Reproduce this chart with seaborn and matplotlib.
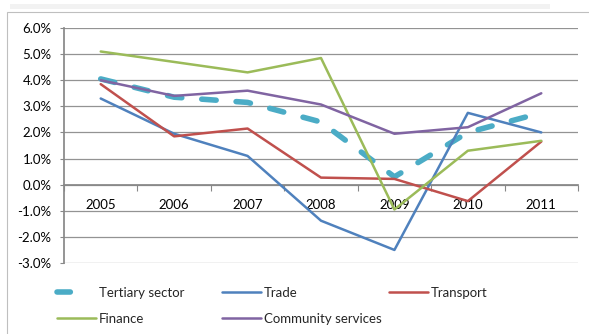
import matplotlib
matplotlib.use("Agg")
import matplotlib.pyplot as plt
from matplotlib.lines import Line2D
from matplotlib.patches import Rectangle
import seaborn as sns
import pandas as pd

years = ["2005", "2006", "2007", "2008", "2009", "2010", "2011"]
tertiary = [4.05, 3.35, 3.15, 2.4, 0.3, 2.0, 2.75]
trade = [3.3, 1.95, 1.1, -1.38, -2.5, 2.75, 2.0]
transport = [3.85, 1.85, 2.15, 0.27, 0.22, -0.63, 1.65]
finance = [5.1, 4.7, 4.3, 4.85, -0.95, 1.3, 1.68]
community = [4.0, 3.4, 3.6, 3.07, 1.95, 2.2, 3.5]

series_names = ["Tertiary sector", "Trade", "Transport", "Finance", "Community services"]
series_values = [tertiary, trade, transport, finance, community]
colors = ["#4BACC6", "#4F81BD", "#C0504D", "#9BBB59", "#8064A2"]
y_ticks = [-3, -2, -1, 0, 1, 2, 3, 4, 5, 6]

sns.set_theme(style="white")
plt.rcParams["font.family"] = ["Lato", "DejaVu Sans"]
FS = 9.5

rows = []
for name, vals in zip(series_names, series_values):
    for i, v in enumerate(vals):
        rows.append({"pos": i, "year": years[i], "series": name, "value": v})
df = pd.DataFrame(rows)

fig = plt.figure(figsize=(5.89, 3.34), dpi=100)
ax = fig.add_axes([64 / 589, 1 - 263 / 334, 514 / 589, 235 / 334])

# horizontal gridlines
for t in y_ticks:
    ax.axhline(t, color="#939393", lw=0.9, zorder=0)

lw_thin = 1.8
dash = (0, (2.6, 3.6))
for name, col in zip(series_names, colors):
    sub = df[df["series"] == name]
    if name == "Tertiary sector":
        sns.lineplot(data=sub, x="pos", y="value", ax=ax, color=col, lw=4.0,
                     linestyle=dash, dash_capstyle="round",
                     legend=False, zorder=2, errorbar=None)
    else:
        sns.lineplot(data=sub, x="pos", y="value", ax=ax, color=col, lw=lw_thin,
                     legend=False, zorder=3, errorbar=None)

ax.set_xlim(-0.5, 6.5)
ax.set_ylim(-3, 6)
ax.set_xlabel("")
ax.set_ylabel("")

ax.set_yticks(y_ticks)
ax.set_yticklabels([f"{t:.1f}%" for t in y_ticks], fontsize=FS, color="black")
ax.tick_params(axis="y", length=3, width=0.8, color="#888888", pad=6, left=True)

ax.spines["bottom"].set_position(("data", 0))
ax.spines["bottom"].set_color("#888888")
ax.spines["left"].set_color("#888888")
ax.spines["top"].set_visible(False)
ax.spines["right"].set_visible(False)

ax.set_xticks(range(len(years)))
ax.set_xticklabels(years, fontsize=FS, color="black")
ax.set_xticks([i - 0.5 for i in range(len(years) + 1)], minor=True)
ax.tick_params(axis="x", which="major", length=0, pad=10, bottom=True)
ax.tick_params(axis="x", which="minor", length=4, width=0.8, color="#888888", bottom=True)

# legend, three columns laid out at fixed positions
col_x = [57 / 589, 222 / 589, 389 / 589]
row_y = [1 - 293 / 334, 1 - 319 / 334]
layout = [(0, 0, 0), (1, 0, 1), (2, 0, 2), (3, 1, 0), (4, 1, 1)]
for idx, r, c in layout:
    if series_names[idx] == "Tertiary sector":
        h = Line2D([], [], color=colors[idx], lw=4.0, linestyle=(0, (2.4, 10)),
                   dash_capstyle="round")
    else:
        h = Line2D([], [], color=colors[idx], lw=lw_thin)
    fig.legend([h], [series_names[idx]], loc="center left",
               bbox_to_anchor=(col_x[c], row_y[r]), frameon=False,
               fontsize=FS, handlelength=2.95, handletextpad=0.2,
               borderaxespad=0, borderpad=0)

# chart area border and faint strip above it
fig.patches.append(Rectangle((7 / 589, -0.05), 1.0, 1 - 12 / 334 + 0.05,
                             transform=fig.transFigure, fill=False,
                             edgecolor="#BFBFBF", lw=0.8))
fig.patches.append(Rectangle((10 / 589, 1 - 9 / 334), 540 / 589, 5 / 334,
                             transform=fig.transFigure, facecolor="#EDEDED",
                             edgecolor="none", alpha=0.7))

fig.savefig("out.png", dpi=100)
